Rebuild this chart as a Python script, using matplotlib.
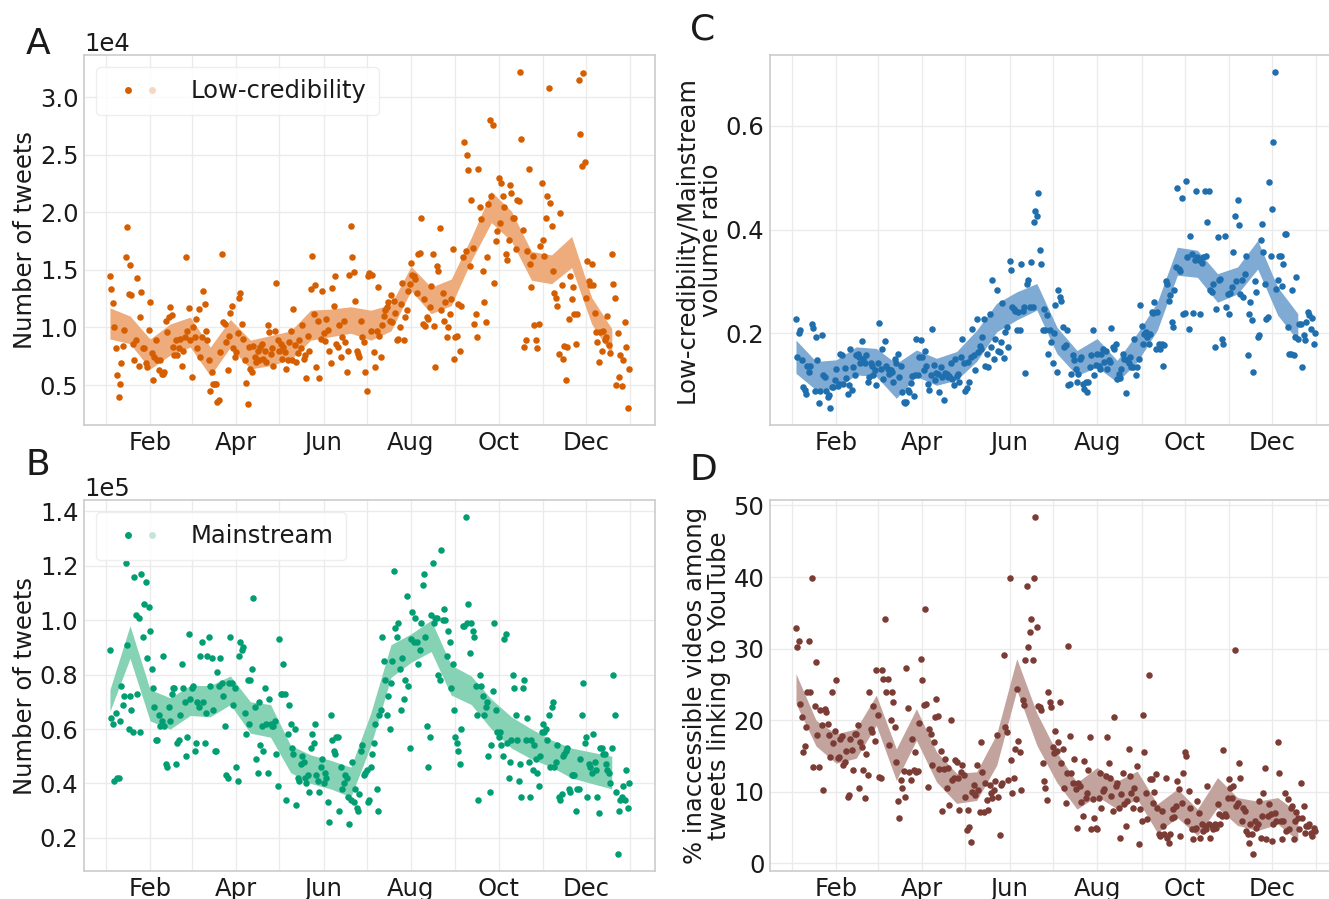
import numpy as np
import pandas as pd
import matplotlib
matplotlib.use("Agg")
import matplotlib.pyplot as plt
import matplotlib.dates as mdates
from matplotlib.lines import Line2D
from matplotlib.legend_handler import HandlerTuple
from matplotlib.ticker import MultipleLocator

# daily values, one row per two-week block starting 2020-01-04
# A: low-credibility tweets (x1e4)
lowcred_rows = [
    [1.45, 1.33, 1.21, 1.00, 0.82, 0.59, 0.40, 0.51, 0.69, 0.84, 0.98, 1.61, 1.87, 1.29],
    [1.54, 1.28, 0.86, 0.72, 0.89, 1.43, 0.67, 1.09, 1.31, 0.82, 0.82, 0.69, 0.66, 0.98],
    [1.22, 0.78, 0.54, 0.74, 0.89, 0.72, 0.63, 0.72, 0.60, 0.60, 0.61, 1.06, 0.96, 1.09],
    [1.18, 1.11, 0.83, 0.76, 0.89, 0.76, 0.82, 0.90, 0.67, 0.80, 0.92, 1.61, 0.97, 1.17],
    [0.89, 0.57, 1.00, 0.92, 1.07, 0.82, 1.16, 0.74, 0.92, 1.32, 1.20, 0.97, 0.89, 0.72],
    [0.45, 0.61, 0.51, 0.51, 0.51, 0.35, 0.37, 0.79, 1.64, 1.05, 1.03, 0.87, 0.63, 0.93],
    [1.13, 1.19, 0.82, 0.74, 0.79, 0.95, 1.26, 1.30, 1.03, 0.90, 0.72, 0.52, 0.34, 0.83],
    [0.64, 0.61, 0.84, 0.74, 0.70, 0.80, 0.72, 0.83, 0.86, 0.73, 0.80, 0.70, 1.02, 0.96],
    [0.77, 0.82, 0.67, 0.97, 1.39, 0.89, 0.80, 0.86, 0.73, 0.83, 0.79, 0.64, 0.72, 0.87],
    [0.97, 0.72, 1.16, 0.85, 0.70, 0.78, 0.89, 0.82, 1.02, 0.73, 0.76, 0.56, 0.93, 0.80],
    [1.33, 1.62, 1.12, 1.37, 0.66, 1.06, 0.56, 0.90, 1.32, 0.95, 0.88, 1.07, 0.98, 0.80],
    [0.69, 1.34, 1.19, 1.45, 0.86, 0.83, 1.02, 0.74, 0.92, 1.06, 0.87, 0.61, 0.80, 1.46],
    [1.88, 1.61, 1.48, 1.23, 0.80, 0.77, 0.74, 1.06, 0.92, 0.87, 0.61, 0.45, 1.45, 1.47],
    [0.97, 1.46, 0.79, 0.66, 0.97, 1.35, 0.93, 0.74, 1.02, 1.10, 1.15, 1.18, 1.22, 1.06],
    [1.28, 1.05, 1.23, 1.13, 0.89, 0.90, 1.00, 1.20, 1.39, 0.89, 1.09, 1.15, 1.32, 1.38],
    [1.56, 1.46, 1.45, 1.42, 1.30, 1.64, 1.65, 1.95, 1.03, 1.25, 1.01, 1.09, 1.07, 1.18],
    [1.36, 1.64, 1.01, 0.66, 1.53, 1.49, 1.86, 1.15, 1.30, 1.06, 1.22, 0.92, 1.00, 1.12],
    [1.25, 1.68, 0.73, 0.92, 0.93, 1.20, 0.80, 1.19, 1.61, 2.61, 1.66, 2.50, 2.37, 1.53],
    [2.11, 1.69, 1.03, 1.12, 0.92, 2.38, 2.05, 1.94, 1.49, 1.22, 1.05, 1.61, 2.07, 2.80],
    [2.14, 2.76, 1.39, 1.75, 1.84, 2.30, 1.91, 2.25, 2.14, 2.05, 1.64, 1.59, 1.76, 2.24],
    [2.17, 1.95, 1.95, 1.68, 2.11, 2.10, 3.22, 2.64, 1.85, 0.83, 0.89, 1.66, 2.38, 1.55],
    [1.35, 1.62, 1.02, 0.89, 0.82, 1.03, 1.71, 2.25, 1.76, 1.62, 1.95, 2.14, 3.08, 2.08],
    [1.88, 1.49, 1.30, 1.26, 1.19, 0.77, 1.99, 1.37, 0.73, 0.84, 0.54, 0.83, 1.07, 1.45],
    [1.25, 1.35, 1.12, 0.86, 1.12, 3.15, 2.68, 2.40, 3.21, 2.44, 1.26, 1.58, 1.40, 1.37],
    [1.55, 1.37, 1.13, 0.96, 0.87, 0.70, 0.96, 0.80, 0.97, 0.89, 0.92, 1.10, 0.85, 0.78],
    [1.64, 1.38, 1.26, 0.50, 0.95, 0.57, 0.76, 0.49, 0.72, 1.05, 0.83, 0.30, 0.64],
]
lowcred_lo = [0.90, 0.86, 0.64, 0.76, 0.83, 0.58, 0.83, 0.64, 0.67, 0.72, 0.89, 0.92, 0.95,
              0.89, 0.97, 1.32, 1.12, 1.19, 1.58, 1.91, 1.75, 1.41, 1.38, 1.52, 1.03, 0.76]
lowcred_hi = [1.17, 1.10, 0.90, 1.03, 1.09, 0.83, 1.07, 0.89, 0.93, 0.97, 1.15, 1.16, 1.18,
              1.15, 1.20, 1.53, 1.35, 1.42, 1.78, 2.18, 2.01, 1.66, 1.63, 1.79, 1.26, 0.99]

# B: mainstream tweets (x1e5)
mainstream_rows = [
    [0.89, 0.64, 0.62, 0.41, 0.66, 0.42, 0.42, 0.63, 0.76, 0.69, 0.72, 1.21, 0.91, 0.60],
    [0.72, 0.67, 0.59, 1.16, 1.02, 0.73, 1.01, 0.59, 1.17, 0.94, 1.06, 1.14, 0.86, 1.05],
    [0.96, 0.82, 0.75, 0.68, 0.56, 0.56, 0.65, 0.61, 0.63, 0.87, 0.61, 0.47, 0.46, 0.68],
    [0.63, 0.73, 0.75, 0.75, 0.47, 0.55, 0.56, 0.65, 0.84, 0.75, 0.70, 0.50, 0.57, 0.95],
    [0.71, 0.75, 0.76, 0.52, 0.55, 0.70, 0.68, 0.87, 0.92, 0.70, 0.55, 0.66, 0.87, 0.94],
    [0.76, 0.86, 0.67, 0.52, 0.52, 0.81, 0.76, 0.86, 0.77, 0.72, 0.61, 0.43, 0.42, 0.77],
    [0.94, 0.77, 0.69, 0.75, 0.46, 0.41, 0.87, 0.92, 0.89, 0.90, 0.66, 0.58, 0.78, 0.62],
    [0.78, 0.82, 1.08, 0.68, 0.49, 0.44, 0.70, 0.54, 0.61, 0.52, 0.75, 0.62, 0.44, 0.71],
    [0.62, 0.61, 0.61, 0.63, 0.51, 0.39, 0.93, 0.73, 0.73, 0.84, 0.73, 0.34, 0.58, 0.69],
    [0.62, 0.53, 0.51, 0.60, 0.32, 0.42, 0.41, 0.47, 0.50, 0.48, 0.42, 0.40, 0.43, 0.37],
    [0.53, 0.58, 0.55, 0.62, 0.43, 0.41, 0.37, 0.46, 0.49, 0.40, 0.44, 0.42, 0.33, 0.26],
    [0.65, 0.56, 0.52, 0.51, 0.57, 0.57, 0.30, 0.46, 0.38, 0.40, 0.43, 0.42, 0.35, 0.25],
    [0.34, 0.48, 0.33, 0.38, 0.31, 0.30, 0.36, 0.52, 0.54, 0.43, 0.44, 0.45, 0.33, 0.34],
    [0.46, 0.51, 0.55, 0.62, 0.38, 0.30, 0.65, 0.67, 0.94, 0.85, 0.78, 0.65, 0.72, 0.60],
    [0.77, 0.85, 1.18, 0.97, 0.94, 0.99, 0.82, 0.67, 0.86, 0.71, 0.78, 1.09, 0.76, 0.53],
    [0.93, 1.03, 0.92, 1.01, 0.92, 0.84, 0.89, 0.99, 1.13, 1.17, 0.94, 0.61, 0.46, 0.57],
    [1.02, 1.21, 0.99, 1.01, 1.01, 0.80, 0.78, 1.26, 1.00, 1.04, 1.00, 0.87, 0.96, 0.92],
    [0.75, 0.84, 0.67, 0.57, 0.55, 0.52, 0.47, 0.60, 0.98, 0.98, 1.38, 0.99, 1.06, 0.88],
    [0.99, 0.96, 0.94, 0.76, 0.65, 0.34, 0.80, 0.76, 0.72, 0.65, 0.68, 0.70, 0.50, 0.37],
    [0.54, 0.74, 0.99, 0.67, 0.59, 0.57, 0.59, 0.54, 0.50, 0.93, 0.95, 0.55, 0.42, 0.48],
    [0.56, 0.80, 0.75, 0.65, 0.56, 0.41, 0.47, 0.35, 0.75, 0.78, 0.56, 0.64, 0.48, 0.35],
    [0.56, 0.45, 0.54, 0.49, 0.44, 0.39, 0.50, 0.59, 0.62, 0.59, 0.60, 0.56, 0.65, 0.46],
    [0.68, 0.70, 0.46, 0.48, 0.54, 0.35, 0.34, 0.36, 0.50, 0.51, 0.52, 0.53, 0.38, 0.37],
    [0.43, 0.43, 0.43, 0.30, 0.38, 0.38, 0.49, 0.65, 0.77, 0.55, 0.57, 0.35, 0.47, 0.46],
    [0.44, 0.58, 0.48, 0.45, 0.35, 0.29, 0.53, 0.53, 0.51, 0.51, 0.47, 0.45, 0.44, 0.40],
    [0.53, 0.80, 0.65, 0.37, 0.14, 0.30, 0.34, 0.35, 0.39, 0.34, 0.45, 0.31, 0.40],
]
mainstream_lo = [0.665, 0.86, 0.63, 0.60, 0.65, 0.645, 0.69, 0.585, 0.57, 0.44, 0.40, 0.38, 0.35,
                 0.54, 0.79, 0.845, 0.885, 0.725, 0.69, 0.60, 0.53, 0.49, 0.46, 0.42, 0.40, 0.38]
mainstream_hi = [0.745, 0.98, 0.745, 0.715, 0.76, 0.76, 0.795, 0.70, 0.69, 0.54, 0.505, 0.485, 0.46,
                 0.66, 0.91, 0.95, 1.00, 0.835, 0.795, 0.71, 0.645, 0.60, 0.56, 0.53, 0.515, 0.50]

# C: low-credibility / mainstream ratio
ratio_rows = [
    [0.228, 0.154, 0.200, 0.206, 0.148, 0.097, 0.090, 0.084, 0.138, 0.126, 0.138, 0.219, 0.211, 0.089],
    [0.193, 0.148, 0.065, 0.089, 0.196, 0.119, 0.116, 0.089, 0.078, 0.081, 0.056, 0.097, 0.097, 0.110],
    [0.132, 0.098, 0.103, 0.161, 0.158, 0.103, 0.134, 0.115, 0.084, 0.100, 0.170, 0.090, 0.135, 0.120],
    [0.158, 0.161, 0.154, 0.142, 0.185, 0.151, 0.142, 0.158, 0.106, 0.116, 0.142, 0.138, 0.120, 0.130],
    [0.100, 0.142, 0.220, 0.132, 0.170, 0.113, 0.185, 0.138, 0.132, 0.122, 0.129, 0.126, 0.106, 0.150],
    [0.142, 0.161, 0.116, 0.138, 0.087, 0.068, 0.065, 0.068, 0.090, 0.087, 0.104, 0.117, 0.080, 0.120],
    [0.190, 0.119, 0.154, 0.188, 0.154, 0.129, 0.166, 0.138, 0.103, 0.090, 0.119, 0.208, 0.140, 0.110],
    [0.124, 0.122, 0.088, 0.136, 0.116, 0.071, 0.124, 0.121, 0.116, 0.117, 0.142, 0.113, 0.100, 0.150],
    [0.117, 0.122, 0.106, 0.154, 0.190, 0.142, 0.089, 0.094, 0.145, 0.106, 0.154, 0.209, 0.158, 0.130],
    [0.228, 0.164, 0.175, 0.170, 0.193, 0.228, 0.138, 0.161, 0.135, 0.238, 0.174, 0.303, 0.150, 0.190],
    [0.283, 0.167, 0.164, 0.183, 0.258, 0.153, 0.203, 0.213, 0.174, 0.340, 0.322, 0.250, 0.247, 0.243],
    [0.206, 0.241, 0.207, 0.334, 0.244, 0.250, 0.124, 0.295, 0.302, 0.250, 0.337, 0.250, 0.414, 0.436],
    [0.427, 0.470, 0.360, 0.334, 0.206, 0.247, 0.206, 0.235, 0.161, 0.206, 0.183, 0.142, 0.200, 0.255],
    [0.126, 0.283, 0.270, 0.262, 0.212, 0.174, 0.177, 0.206, 0.100, 0.103, 0.122, 0.158, 0.148, 0.132],
    [0.106, 0.122, 0.151, 0.154, 0.103, 0.092, 0.106, 0.087, 0.106, 0.135, 0.158, 0.207, 0.119, 0.140],
    [0.161, 0.138, 0.132, 0.161, 0.170, 0.145, 0.167, 0.132, 0.148, 0.145, 0.211, 0.174, 0.170, 0.180],
    [0.113, 0.122, 0.115, 0.132, 0.161, 0.150, 0.085, 0.148, 0.142, 0.154, 0.135, 0.135, 0.190, 0.120],
    [0.135, 0.151, 0.254, 0.215, 0.180, 0.199, 0.203, 0.193, 0.180, 0.199, 0.241, 0.240, 0.260, 0.170],
    [0.241, 0.180, 0.170, 0.180, 0.138, 0.177, 0.300, 0.296, 0.263, 0.273, 0.222, 0.212, 0.283, 0.328],
    [0.481, 0.324, 0.321, 0.461, 0.238, 0.239, 0.494, 0.348, 0.209, 0.387, 0.353, 0.239, 0.342, 0.475],
    [0.347, 0.342, 0.238, 0.335, 0.347, 0.475, 0.350, 0.414, 0.475, 0.283, 0.280, 0.296, 0.174, 0.247],
    [0.385, 0.302, 0.305, 0.190, 0.180, 0.388, 0.250, 0.276, 0.238, 0.278, 0.289, 0.356, 0.427, 0.300],
    [0.456, 0.408, 0.276, 0.302, 0.270, 0.315, 0.350, 0.158, 0.238, 0.260, 0.225, 0.126, 0.300, 0.280],
    [0.193, 0.196, 0.379, 0.411, 0.356, 0.296, 0.228, 0.231, 0.491, 0.350, 0.440, 0.568, 0.704, 0.286],
    [0.302, 0.350, 0.350, 0.292, 0.334, 0.392, 0.392, 0.212, 0.160, 0.161, 0.283, 0.158, 0.193, 0.308],
    [0.190, 0.219, 0.219, 0.135, 0.196, 0.187, 0.222, 0.241, 0.235, 0.209, 0.230, 0.180, 0.200],
]
ratio_lo = [0.123, 0.091, 0.094, 0.120, 0.117, 0.075, 0.117, 0.100, 0.110, 0.146, 0.203, 0.226, 0.245,
            0.161, 0.119, 0.135, 0.106, 0.145, 0.206, 0.312, 0.308, 0.260, 0.276, 0.324, 0.235, 0.186]
ratio_hi = [0.187, 0.146, 0.149, 0.174, 0.171, 0.142, 0.168, 0.152, 0.165, 0.206, 0.258, 0.280, 0.296,
            0.212, 0.167, 0.190, 0.148, 0.200, 0.260, 0.366, 0.360, 0.315, 0.328, 0.379, 0.289, 0.238]

# D: % inaccessible YouTube videos
youtube_rows = [
    [32.9, 30.2, 31.1, 22.3, 20.5, 15.6, 16.4, 19.1, 24.0, 31.0, 24.0, 39.9, 13.5, 22.0],
    [28.1, 17.9, 13.5, 21.4, 19.3, 10.2, 21.6, 21.2, 19.5, 17.9, 14.9, 24.0, 16.8, 18.5],
    [25.6, 14.7, 14.9, 17.4, 17.8, 13.7, 14.2, 15.7, 9.3, 9.6, 17.4, 15.8, 13.0, 18.1],
    [18.1, 19.3, 10.5, 17.0, 16.3, 13.0, 9.1, 15.3, 12.3, 24.0, 18.8, 18.4, 22.0, 17.1],
    [27.0, 20.7, 12.1, 11.9, 27.0, 25.8, 34.1, 24.0, 25.8, 16.6, 20.0, 24.0, 22.5, 19.0],
    [14.2, 8.7, 6.3, 11.6, 10.5, 12.9, 9.3, 27.3, 21.7, 12.8, 11.6, 17.4, 13.0, 15.5],
    [12.8, 12.9, 19.6, 28.6, 25.6, 22.2, 35.5, 22.3, 10.7, 18.8, 18.1, 13.8, 17.0, 20.5],
    [22.9, 20.6, 13.2, 15.7, 7.3, 13.2, 14.6, 10.5, 13.3, 8.1, 20.0, 11.6, 12.0, 14.5],
    [14.2, 11.9, 7.4, 12.8, 13.7, 12.3, 9.3, 4.7, 7.4, 5.1, 3.0, 10.0, 11.0, 9.5],
    [13.7, 10.2, 7.2, 16.9, 12.8, 7.2, 11.2, 8.8, 7.4, 10.9, 9.8, 9.1, 10.2, 11.5],
    [17.9, 9.3, 4.0, 10.9, 11.2, 29.1, 19.1, 18.4, 11.7, 39.9, 14.5, 9.8, 12.0, 16.0],
    [24.4, 17.1, 15.5, 10.2, 22.8, 22.1, 28.4, 38.8, 30.2, 32.3, 34.1, 28.4, 39.9, 48.4],
    [33.0, 22.0, 21.8, 21.5, 14.1, 11.5, 10.6, 8.9, 23.9, 22.5, 21.8, 16.2, 15.4, 18.5],
    [15.7, 16.9, 22.5, 14.1, 16.0, 10.6, 8.5, 12.7, 30.4, 17.8, 12.7, 11.3, 14.6, 10.4],
    [4.9, 11.3, 10.8, 8.6, 6.7, 14.3, 9.2, 9.9, 13.1, 17.6, 4.8, 9.0, 6.4, 5.0],
    [4.8, 9.2, 12.7, 7.8, 10.1, 10.4, 12.2, 17.6, 14.1, 12.0, 9.4, 7.3, 20.4, 10.8],
    [11.3, 7.8, 3.6, 9.7, 12.7, 8.3, 5.3, 8.7, 16.0, 12.2, 9.9, 7.8, 10.5, 9.0],
    [13.6, 2.7, 7.6, 6.0, 20.7, 15.5, 9.9, 6.2, 26.3, 11.8, 11.8, 8.5, 10.0, 12.5],
    [7.8, 4.1, 3.9, 7.3, 5.3, 4.1, 12.0, 3.6, 2.9, 4.1, 6.4, 7.6, 6.5, 8.0],
    [11.5, 10.4, 3.9, 8.5, 12.7, 15.5, 15.0, 6.0, 10.1, 7.8, 4.8, 3.4, 4.8, 5.0],
    [8.7, 7.0, 3.6, 5.5, 4.6, 5.3, 4.8, 10.8, 5.5, 3.6, 5.3, 4.8, 5.5, 5.0],
    [8.3, 6.9, 5.5, 6.7, 15.9, 6.9, 6.7, 9.2, 11.8, 10.6, 9.2, 10.8, 29.8, 8.0],
    [8.5, 14.1, 12.0, 6.0, 7.8, 7.3, 4.6, 4.1, 2.9, 5.5, 4.1, 1.3, 6.0, 5.0],
    [5.5, 8.7, 3.6, 6.7, 9.9, 13.4, 3.4, 6.7, 8.3, 6.9, 3.2, 5.5, 7.0, 6.0],
    [16.9, 12.7, 6.0, 3.4, 6.0, 9.9, 4.6, 9.0, 4.8, 7.8, 8.0, 3.4, 6.0, 7.2],
    [6.4, 4.8, 11.3, 6.4, 8.0, 4.3, 5.3, 5.3, 5.5, 4.3, 3.9, 5.0, 4.5],
]
youtube_lo = [22.3, 16.4, 14.0, 14.7, 19.3, 11.6, 17.2, 11.4, 8.4, 8.8, 13.7, 24.2, 16.5,
              11.3, 7.6, 9.4, 7.6, 9.0, 4.3, 6.4, 3.9, 7.8, 5.3, 4.6, 5.5, 3.2]
youtube_hi = [26.5, 20.0, 18.1, 18.8, 23.5, 16.0, 21.6, 15.6, 12.6, 12.8, 18.1, 28.6, 21.0,
              15.5, 11.3, 13.4, 11.5, 12.9, 8.3, 10.4, 7.6, 12.0, 9.2, 8.7, 9.2, 7.1]

start = "2020-01-04"
band_dates = pd.date_range(start, periods=len(lowcred_lo), freq="14D")

FS = 17.5
plt.rcParams['font.family'] = ['DejaVu Sans']
plt.rcParams['text.color'] = '#1a1a1a'
plt.rcParams['axes.labelcolor'] = '#1a1a1a'
plt.rcParams['xtick.color'] = '#1a1a1a'
plt.rcParams['ytick.color'] = '#1a1a1a'

fig = plt.figure(figsize=(13.29, 8.99), dpi=100)
axA = fig.add_axes([0.0632, 0.5273, 0.4296, 0.4116])
axB = fig.add_axes([0.0632, 0.0311, 0.4296, 0.4127])
axC = fig.add_axes([0.5794, 0.5273, 0.4296, 0.4116])
axD = fig.add_axes([0.5794, 0.0311, 0.4296, 0.4127])


def draw(ax, rows, lo, hi, scale, dot, band):
    vals = np.concatenate([np.asarray(r, float) for r in rows]) * scale
    dates = pd.date_range(start, periods=len(vals), freq="D")
    ax.fill_between(band_dates, np.asarray(lo) * scale, np.asarray(hi) * scale,
                    color=band, lw=0, zorder=2)
    ax.scatter(dates, vals, s=22, color=dot, linewidths=0, zorder=3)


draw(axA, lowcred_rows, lowcred_lo, lowcred_hi, 1e4, '#d55e00', '#eeab7b')
draw(axB, mainstream_rows, mainstream_lo, mainstream_hi, 1e5, '#029e73', '#86d2b4')
draw(axC, ratio_rows, ratio_lo, ratio_hi, 1.0, '#1f6eae', '#7eaad3')
draw(axD, youtube_rows, youtube_lo, youtube_hi, 1.0, '#7b3c35', '#c3a39d')

for ax in (axA, axB, axC, axD):
    ax.xaxis.set_major_locator(mdates.MonthLocator(bymonth=[2, 4, 6, 8, 10, 12]))
    ax.xaxis.set_major_formatter(mdates.DateFormatter('%b'))
    ax.xaxis.set_minor_locator(mdates.MonthLocator())
    ax.grid(axis='x', which='both', color='#ebebeb', lw=1)
    ax.grid(axis='y', which='major', color='#ebebeb', lw=1)
    ax.set_axisbelow(True)
    ax.tick_params(which='both', length=0, labelsize=FS, pad=4)
    for sp in ax.spines.values():
        sp.set_color('#cccccc')
        sp.set_linewidth(1.2)

for ax, step in ((axA, 5000), (axB, 20000)):
    ax.yaxis.set_major_locator(MultipleLocator(step))
    ax.ticklabel_format(axis='y', style='sci', scilimits=(0, 0))
    ax.yaxis.get_offset_text().set_fontsize(FS)
    ax.set_ylabel('Number of tweets', fontsize=FS, labelpad=2)
axC.yaxis.set_major_locator(MultipleLocator(0.2))
axD.yaxis.set_major_locator(MultipleLocator(10))
axC.set_ylabel('Low-credibility/Mainstream\nvolume ratio', fontsize=FS, linespacing=1.0, labelpad=2)
axD.set_ylabel('% inaccessible videos among\ntweets linking to YouTube', fontsize=FS,
               linespacing=1.0, labelpad=2)

# legends with dark and pale dots
for ax, dot, pale, label in ((axA, '#d55e00', '#f7d6bf', 'Low-credibility'),
                             (axB, '#029e73', '#c2e7d8', 'Mainstream')):
    h = (Line2D([], [], ls='none', marker='o', ms=5, color=dot, mec='none'),
         Line2D([], [], ls='none', marker='o', ms=5, color=pale, mec='none'))
    leg = ax.legend([h], [label], handler_map={tuple: HandlerTuple(ndivide=None, pad=-0.6)},
                    loc='upper left', fontsize=FS, handlelength=2.6, handletextpad=0.8,
                    borderpad=0.5, frameon=True, framealpha=0.85)
    leg.get_frame().set_edgecolor('#ececec')

for x, y, s in ((0.0286, 0.951, 'A'), (0.0286, 0.483, 'B'),
                (0.529, 0.967, 'C'), (0.529, 0.477, 'D')):
    fig.text(x, y, s, fontsize=26, ha='center', va='center')

plt.savefig('out.png', dpi=100, facecolor='white')
